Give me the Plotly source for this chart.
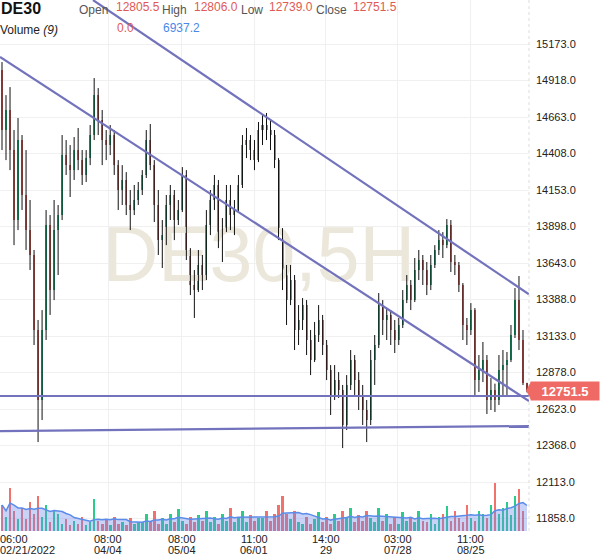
import plotly.graph_objects as go
import pandas as pd

# ---------------- data ----------------
opens = [14991, 14572, 14712, 14432, 13943, 14502, 14118, 13873, 13699, 13175,
         12686, 13175, 13908, 13454, 13873, 13978, 14397, 14327, 14292, 14432,
         14362, 14258, 14376, 14537, 14816, 14642, 14502, 14467, 14537, 14327,
         14153, 14223, 14048, 14013, 14083, 14153, 14258, 14502, 14327, 14048,
         13803, 13838, 14048, 14118, 13943, 14013, 14258, 13734, 13489, 13454,
         13629, 13559, 13908, 14083, 14188, 13838, 13873, 14083, 13978, 14013,
         14188, 14467, 14502, 14432, 14362, 14572, 14607, 14572, 14537, 14362,
         13873, 13559, 13384, 13524, 13175, 13245, 13349, 13105, 12965, 13140,
         13245, 13070, 12895, 12721, 12825, 12756, 12511, 12791, 12965, 12825,
         12721, 12616, 12546, 12965, 13070, 13349, 13245, 13280, 13175, 13105,
         13210, 13384, 13489, 13384, 13594, 13664, 13594, 13489, 13629, 13734,
         13803, 13768, 13908, 13650, 13629, 13489, 13210, 13175, 13314, 12825,
         12895, 12965, 12686, 12756, 12686, 12895, 12930, 12965, 13140, 13384,
         13105, 12805.5]
highs = [15047, 14816, 14872, 14572, 14656, 14537, 14432, 14083, 13734, 13245,
         13314, 14013, 13978, 14083, 14048, 14537, 14502, 14467, 14523, 14586,
         14432, 14432, 14607, 14935, 14865, 14712, 14572, 14607, 14572, 14362,
         14327, 14278, 14153, 14188, 14209, 14292, 14572, 14614, 14362, 14153,
         13943, 14118, 14188, 14153, 14083, 14313, 14292, 13747, 13594, 13734,
         13699, 14013, 14153, 14258, 14223, 13957, 14188, 14188, 14083, 14258,
         14537, 14586, 14537, 14502, 14628, 14677, 14691, 14642, 14572, 14376,
         13887, 13629, 13629, 13559, 13349, 13398, 13384, 13175, 13231, 13349,
         13280, 13105, 12930, 12930, 12881, 12791, 12860, 13035, 13000, 12881,
         12791, 12686, 13035, 13140, 13433, 13384, 13328, 13314, 13245, 13259,
         13454, 13559, 13524, 13678, 13734, 13699, 13650, 13699, 13768, 13873,
         13859, 13950, 13943, 13699, 13650, 13503, 13259, 13363, 13328, 13000,
         13091, 13000, 12839, 12800, 13000, 13035, 13021, 13210, 13468, 13552,
         13175, 12806.0]
lows = [14432, 14362, 14292, 13768, 13873, 14013, 13734, 13594, 13070, 12392,
        12546, 13105, 13280, 13384, 13559, 13943, 14258, 14104, 14223, 14292,
        14188, 14209, 14327, 14502, 14537, 14327, 14362, 14397, 14258, 14013,
        14048, 13978, 13873, 13978, 14048, 14118, 14237, 14292, 13929, 13699,
        13608, 13768, 13943, 13803, 13908, 13999, 13664, 13419, 13259, 13440,
        13454, 13524, 13838, 14013, 13747, 13650, 13859, 13873, 13838, 13999,
        14167, 14376, 14362, 14292, 14348, 14467, 14502, 14432, 14306, 13803,
        13454, 13210, 13349, 13035, 13070, 13175, 13000, 12860, 12951, 13091,
        13000, 12825, 12581, 12686, 12700, 12350, 12476, 12756, 12721, 12616,
        12511, 12392, 12511, 12791, 13049, 13140, 13105, 13070, 13014, 13070,
        13189, 13363, 13314, 13370, 13524, 13489, 13419, 13454, 13608, 13699,
        13678, 13747, 13580, 13559, 13440, 13105, 13070, 13140, 12721, 12742,
        12811, 12588, 12616, 12602, 12651, 12721, 12721, 12951, 13119, 13035,
        12790, 12739.0]
closes = [14572, 14712, 14432, 13943, 14502, 14118, 13873, 13699, 13175, 12686,
          13175, 13908, 13454, 13873, 13978, 14397, 14327, 14292, 14432, 14362,
          14258, 14376, 14537, 14816, 14642, 14502, 14467, 14537, 14327, 14153,
          14223, 14048, 14013, 14083, 14153, 14258, 14502, 14327, 14048, 13803,
          13838, 14048, 14118, 13943, 14013, 14258, 13734, 13489, 13454, 13629,
          13559, 13908, 14083, 14188, 13838, 13873, 14083, 13978, 14013, 14188,
          14467, 14502, 14432, 14362, 14572, 14607, 14572, 14537, 14362, 13873,
          13559, 13384, 13524, 13175, 13245, 13349, 13105, 12965, 13140, 13245,
          13070, 12895, 12721, 12825, 12756, 12511, 12791, 12965, 12825, 12721,
          12616, 12546, 12965, 13070, 13349, 13245, 13280, 13175, 13105, 13210,
          13384, 13489, 13384, 13594, 13664, 13594, 13489, 13629, 13734, 13803,
          13768, 13908, 13650, 13629, 13489, 13210, 13175, 13314, 12825, 12895,
          12965, 12686, 12756, 12686, 12895, 12930, 12965, 13140, 13384, 13105,
          12805.5, 12751.5]
volumes = [9000, 5000, 15000, 7000, 4000, 8000, 4000, 10000, 6000, 12000, 5000, 9000, 3000, 7000, 6000,
           2500, 4000, 2000, 3500, 2500, 5000, 2000, 3000, 11000, 3500, 2500, 4000, 2000, 5000, 2500,
           3000, 2000, 4500, 2500, 3000,
           3000, 6000, 3500, 7000, 2500, 4500, 2500, 6000, 3000, 7500, 3500, 2500, 5000, 3000, 5500,
           3500, 7000, 3000, 5000, 2500, 6000, 3500, 8000, 3000, 4500, 7000, 3000, 5500, 3500, 4500,
           4500, 7000, 3500, 6000, 9000, 12000, 6000, 4000, 7000, 3000,
           2500, 5000, 2500, 4000, 6500, 3000, 5000, 2500, 6000, 3500, 7000, 4500, 8000, 3000, 5500,
           3500, 7000, 4500, 3000, 8000,
           3500, 6000, 2500, 5000, 2500, 6500, 3500, 5000, 3000, 7000, 3500, 3000, 6000, 2500, 5000,
           6000, 8500, 3500, 7000, 4500, 3000, 9000, 4500, 3500, 7000,
           6000, 4500, 9000, 16500, 6000, 8000, 10000, 5500, 12000, 14500, 7000, 0]

y_ticks = [11858, 12113, 12368, 12623, 12878, 13133, 13388, 13643, 13898,
           14153, 14408, 14663, 14918, 15173]
x_tick_pos = [26.45, 44.9, 62.9, 80.8, 98.8, 117.0]
x_tick_time = ["08:00", "08:00", "11:00", "14:00", "03:00", "11:00"]
x_tick_date = ["04/04", "05/04", "06/01", "29", "07/28", "08/25"]
first_time, first_date = "06:00", "02/21/2022"

# trend lines: (index0, price0, index1, price1)
trend_lines = [
    (22.7, 15480, 131.5, 13424),
    (-0.5, 15082, 131.5, 12679),
    (-0.5, 12714, 131.5, 12714),
    (-0.5, 12469, 131.5, 12504),
]

# ---------------- styling ----------------
GREEN = "#12c77f"
RED = "#f0625c"
LINE = "#7373bd"
GRID = "#f0f0f0"
FONT = "Liberation Sans, Arial, sans-serif"
PRICE_RANGE = [11770.7, 15480.4]
VOL_RANGE = [0, 184000]
PLOT_W = 529

n = len(closes)
idx = list(range(n))
up = [c >= o for o, c in zip(opens, closes)]
colors = [GREEN if u else RED for u in up]

fig = go.Figure()

# watermark
fig.add_trace(go.Scatter(
    x=[64.1], y=[13650], mode="text", text=["DE30,5H"],
    textfont=dict(size=77, color="#ebe7da", family="Liberation Sans, Arial"),
    hoverinfo="skip", cliponaxis=False))

# volume bars
fig.add_trace(go.Bar(x=idx, y=volumes, marker=dict(color=colors, line=dict(width=0)),
                     width=0.65, opacity=0.9, yaxis="y2", hoverinfo="skip"))
vol_ma = pd.Series(volumes).rolling(9, min_periods=1).mean()
fig.add_trace(go.Scatter(x=idx, y=vol_ma, mode="lines", yaxis="y2",
                         line=dict(color="#5b8cea", width=1.5),
                         fill="tozeroy", fillcolor="rgba(110,140,235,0.38)", hoverinfo="skip"))

# wicks
wx, wy = [], []
for i, h, l in zip(idx, highs, lows):
    wx += [i, i, None]
    wy += [l, h, None]
fig.add_trace(go.Scatter(x=wx, y=wy, mode="lines", line=dict(color="#111111", width=1),
                         hoverinfo="skip"))

# bodies
base = [min(o, c) for o, c in zip(opens, closes)]
size = [max(abs(c - o), 8) for o, c in zip(opens, closes)]
fig.add_trace(go.Bar(x=idx, y=size, base=base, width=0.5,
                     marker=dict(color=colors, line=dict(width=0))))

shapes = []
for x0, y0, x1, y1 in trend_lines:
    shapes.append(dict(type="line", xref="x", yref="y", x0=x0, y0=y0, x1=x1, y1=y1,
                       line=dict(color=LINE, width=2.2)))
shapes.append(dict(type="line", xref="paper", yref="paper", x0=1, x1=1, y0=0, y1=1,
                   line=dict(color="#dddddd", width=1, dash="dot")))
# price tag arrow
last = closes[-1]
shapes.append(dict(type="path", xref="paper", yref="y",
                   path=f"M {526/PLOT_W} {last} L {531/PLOT_W} {last + 62} L {531/PLOT_W} {last - 62} Z",
                   fillcolor="#f06a65", line=dict(width=0)))

annotations = []


def hdr(text, px, py, color="#555555", size=12):
    annotations.append(dict(text=text, xref="paper", yref="paper", x=px / PLOT_W, y=1,
                            xanchor="left", yanchor="middle", yshift=-py, showarrow=False,
                            font=dict(size=size, color=color, family=FONT)))


hdr("<b>DE30</b>", -1, 8, "#111111", 16)
hdr("Open", 77, 10)
hdr("12805.5", 114, 7, "#e05a55")
hdr("High", 160, 10)
hdr("12806.0", 192, 7, "#e05a55")
hdr("Low", 239, 10)
hdr("12739.0", 267, 7, "#e05a55")
hdr("Close", 314, 10)
hdr("12751.5", 351, 7, "#e05a55")
hdr("Volume <i>(9)</i>", -2, 30, "#222222")
hdr("0.0", 115, 28, "#e05a55")
hdr("6937.2", 161, 28, "#4a88e8")

for xp, t, d in zip(x_tick_pos, x_tick_time, x_tick_date):
    for txt, sh in ((t, -8), (d, -19)):
        annotations.append(dict(text=txt, xref="x", yref="paper", x=xp, y=0, xanchor="center",
                                yanchor="middle", yshift=sh, showarrow=False, borderpad=0,
                                font=dict(size=11, color="#222222", family=FONT)))
for txt, sh in ((first_time, -8), (first_date, -19)):
    annotations.append(dict(text=txt, xref="x", yref="paper", x=-0.5, y=0, xanchor="left",
                            yanchor="middle", yshift=sh, xshift=-1, showarrow=False, borderpad=0,
                            font=dict(size=11, color="#222222", family=FONT)))

annotations.append(dict(text="<b>12751.5</b>", xref="paper", yref="y", x=1, y=last,
                        xanchor="left", yanchor="middle", xshift=1, showarrow=False,
                        bgcolor="#f06a65", width=66, height=16, borderpad=1,
                        font=dict(size=13, color="white", family=FONT)))

fig.update_layout(
    width=600, height=558,
    margin=dict(l=0, r=71, t=0, b=27),
    paper_bgcolor="white", plot_bgcolor="white",
    showlegend=False, barmode="overlay", bargap=0, hovermode=False,
    xaxis=dict(range=[-0.5, n - 0.5], showgrid=True, gridcolor=GRID, tickvals=x_tick_pos,
               showticklabels=False, zeroline=False, showline=False, ticks=""),
    yaxis=dict(range=PRICE_RANGE, side="right", tickvals=y_ticks,
               ticktext=[f"{v:.1f}" for v in y_ticks], showgrid=True, gridcolor=GRID,
               zeroline=False, showline=False, ticks="", ticklabelstandoff=6,
               tickfont=dict(size=11, color="#222222", family=FONT)),
    yaxis2=dict(range=VOL_RANGE, overlaying="y", visible=False),
    shapes=shapes, annotations=annotations,
)

fig.write_html("out.html", config={"displayModeBar": False},
               post_script="document.body.style.margin='0';")
